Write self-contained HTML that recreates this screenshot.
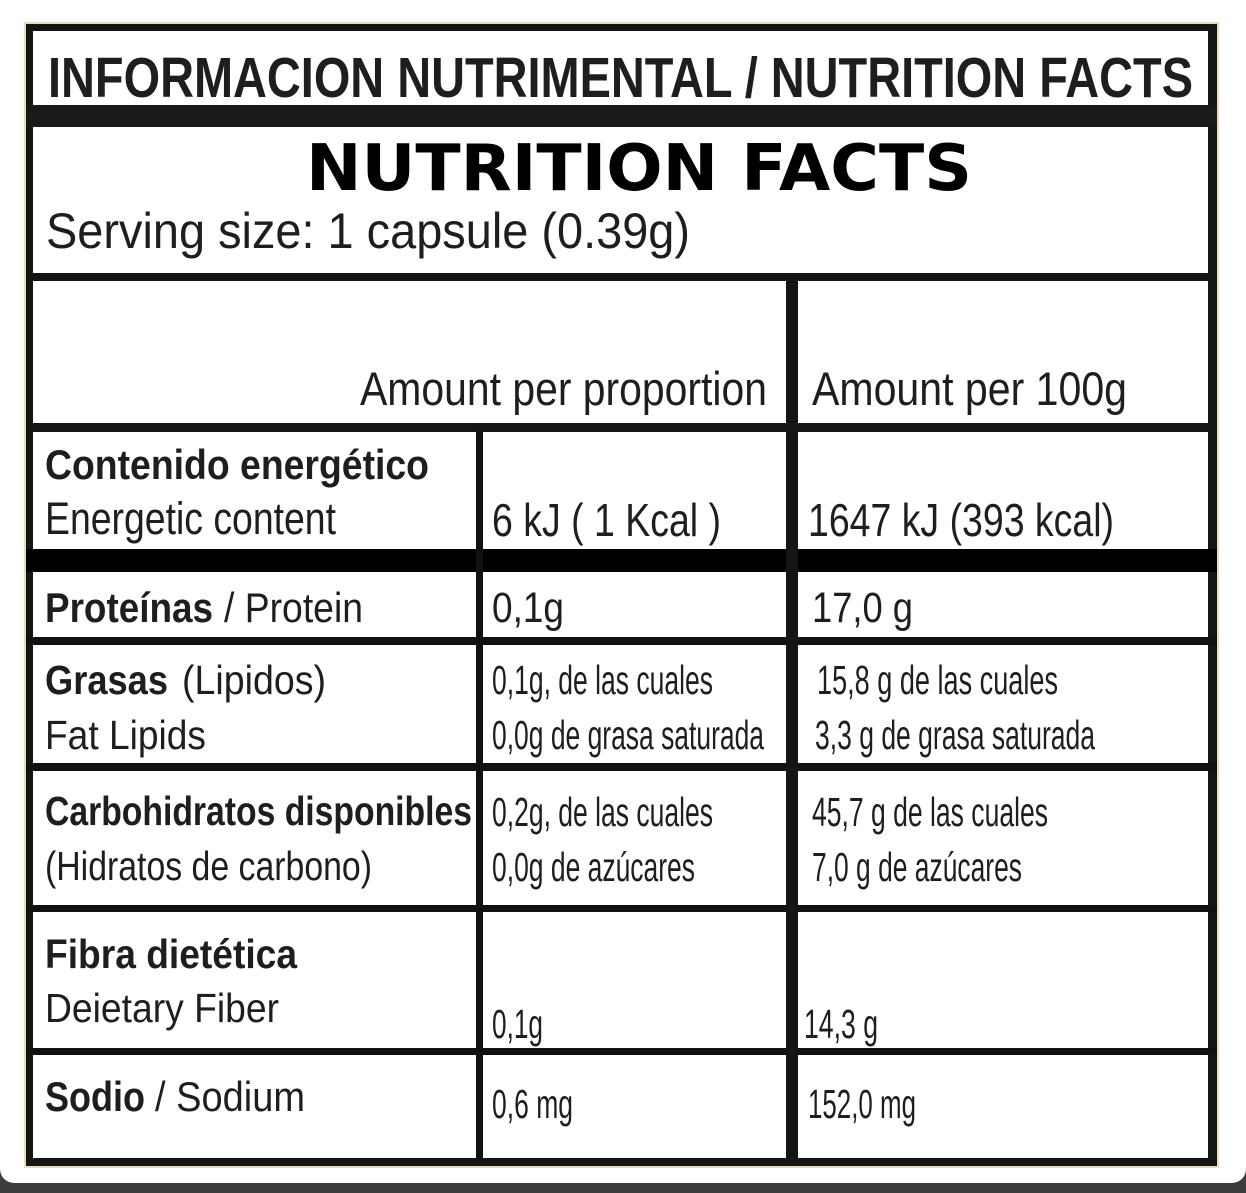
<!DOCTYPE html>
<html>
<head>
<meta charset="utf-8">
<style>
  html, body { margin:0; padding:0; }
  body { width:1246px; height:1193px; background:#3a3c3e; overflow:hidden; position:relative; }
  .card { position:absolute; left:0; top:0; width:1246px; height:1183px; background:#ffffff; border-radius:0 0 14px 14px; }
  svg { position:absolute; left:0; top:0; }
  text { fill:#1e1e1e; font-family:"Liberation Sans", Arial, sans-serif; }
  .b { font-weight:bold; }
</style>
</head>
<body>
<div class="card"></div>
<svg width="1246" height="1193" viewBox="0 0 1246 1193" xmlns="http://www.w3.org/2000/svg">
  <!-- beige outer edge -->
  <rect x="24" y="22" width="1195" height="1146" fill="#eadcb9"/>
  <!-- black frame -->
  <rect x="26" y="24" width="1191" height="1142" fill="#151515"/>
  <rect x="33" y="31" width="1175" height="1127" fill="#ffffff"/>

  <!-- horizontal rules -->
  <rect x="26" y="105" width="1191" height="22" fill="#1a1a1a"/>
  <rect x="26" y="273" width="1191" height="8" fill="#151515"/>
  <rect x="26" y="423" width="1191" height="9" fill="#151515"/>
  <rect x="26" y="549" width="1191" height="23" fill="#000000"/>
  <rect x="26" y="637" width="1191" height="8" fill="#111111"/>
  <rect x="26" y="763" width="1191" height="8" fill="#111111"/>
  <rect x="26" y="905" width="1191" height="7" fill="#111111"/>
  <rect x="26" y="1048" width="1191" height="7" fill="#111111"/>

  <!-- vertical rules -->
  <rect x="476" y="431" width="7" height="728" fill="#111111"/>
  <rect x="786" y="280" width="12" height="879" fill="#151515"/>

  <!-- title rows -->
  <text class="b" x="48" y="97" font-size="57" textLength="1145" lengthAdjust="spacingAndGlyphs" fill="#1f1f1f">INFORMACION NUTRIMENTAL / NUTRITION FACTS</text>
  <text x="306" y="190" font-size="64" textLength="666" lengthAdjust="spacingAndGlyphs" style="font-family:'DejaVu Sans', 'Liberation Sans', sans-serif; font-weight:bold; fill:#000;">NUTRITION FACTS</text>
  <text x="46" y="248" font-size="50" textLength="644" lengthAdjust="spacingAndGlyphs">Serving size: 1 capsule (0.39g)</text>

  <!-- header row -->
  <text x="360" y="405" font-size="47" textLength="407" lengthAdjust="spacingAndGlyphs">Amount per proportion</text>
  <text x="812" y="405" font-size="47" textLength="315" lengthAdjust="spacingAndGlyphs">Amount per 100g</text>

  <!-- energy -->
  <text class="b" x="45" y="479" font-size="42" textLength="384" lengthAdjust="spacingAndGlyphs">Contenido energético</text>
  <text x="45" y="534" font-size="45" textLength="291" lengthAdjust="spacingAndGlyphs">Energetic content</text>
  <text x="492" y="536" font-size="46" textLength="229" lengthAdjust="spacingAndGlyphs">6 kJ ( 1 Kcal )</text>
  <text x="808" y="536" font-size="46" textLength="306" lengthAdjust="spacingAndGlyphs">1647 kJ (393 kcal)</text>

  <!-- protein -->
  <text class="b" x="45" y="622" font-size="42" textLength="168" lengthAdjust="spacingAndGlyphs">Proteínas</text>
  <text x="224" y="622" font-size="42" textLength="139" lengthAdjust="spacingAndGlyphs">/ Protein</text>
  <text x="492" y="622" font-size="43" textLength="72" lengthAdjust="spacingAndGlyphs">0,1g</text>
  <text x="812" y="622" font-size="43" textLength="101" lengthAdjust="spacingAndGlyphs">17,0 g</text>

  <!-- fats -->
  <text class="b" x="45" y="694" font-size="41" textLength="123" lengthAdjust="spacingAndGlyphs">Grasas</text>
  <text x="182" y="694" font-size="41" textLength="144" lengthAdjust="spacingAndGlyphs">(Lipidos)</text>
  <text x="45" y="749" font-size="41" textLength="161" lengthAdjust="spacingAndGlyphs">Fat Lipids</text>
  <text x="492" y="694" font-size="41" textLength="221" lengthAdjust="spacingAndGlyphs">0,1g, de las cuales</text>
  <text x="492" y="749" font-size="41" textLength="272" lengthAdjust="spacingAndGlyphs">0,0g de grasa saturada</text>
  <text x="817" y="694" font-size="41" textLength="241" lengthAdjust="spacingAndGlyphs">15,8 g  de las cuales</text>
  <text x="815" y="749" font-size="41" textLength="280" lengthAdjust="spacingAndGlyphs">3,3 g de grasa saturada</text>

  <!-- carbs -->
  <text class="b" x="45" y="825" font-size="41" textLength="427" lengthAdjust="spacingAndGlyphs">Carbohidratos disponibles</text>
  <text x="45" y="880" font-size="41" textLength="327" lengthAdjust="spacingAndGlyphs">(Hidratos de carbono)</text>
  <text x="492" y="826" font-size="41" textLength="221" lengthAdjust="spacingAndGlyphs">0,2g, de las cuales</text>
  <text x="492" y="881" font-size="41" textLength="203" lengthAdjust="spacingAndGlyphs">0,0g de azúcares</text>
  <text x="812" y="826" font-size="41" textLength="236" lengthAdjust="spacingAndGlyphs">45,7 g de las cuales</text>
  <text x="812" y="881" font-size="41" textLength="210" lengthAdjust="spacingAndGlyphs">7,0 g de azúcares</text>

  <!-- fibre -->
  <text class="b" x="45" y="968" font-size="41" textLength="252" lengthAdjust="spacingAndGlyphs">Fibra dietética</text>
  <text x="45" y="1022" font-size="41" textLength="234" lengthAdjust="spacingAndGlyphs">Deietary Fiber</text>
  <text x="492" y="1038" font-size="41" textLength="51" lengthAdjust="spacingAndGlyphs">0,1g</text>
  <text x="804" y="1038" font-size="41" textLength="74" lengthAdjust="spacingAndGlyphs">14,3 g</text>

  <!-- sodium -->
  <text class="b" x="45" y="1111" font-size="42" textLength="100" lengthAdjust="spacingAndGlyphs">Sodio</text>
  <text x="155" y="1111" font-size="42" textLength="150" lengthAdjust="spacingAndGlyphs">/ Sodium</text>
  <text x="492" y="1118" font-size="41" textLength="81" lengthAdjust="spacingAndGlyphs">0,6 mg</text>
  <text x="808" y="1118" font-size="41" textLength="108" lengthAdjust="spacingAndGlyphs">152,0 mg</text>
</svg>
</body>
</html>
